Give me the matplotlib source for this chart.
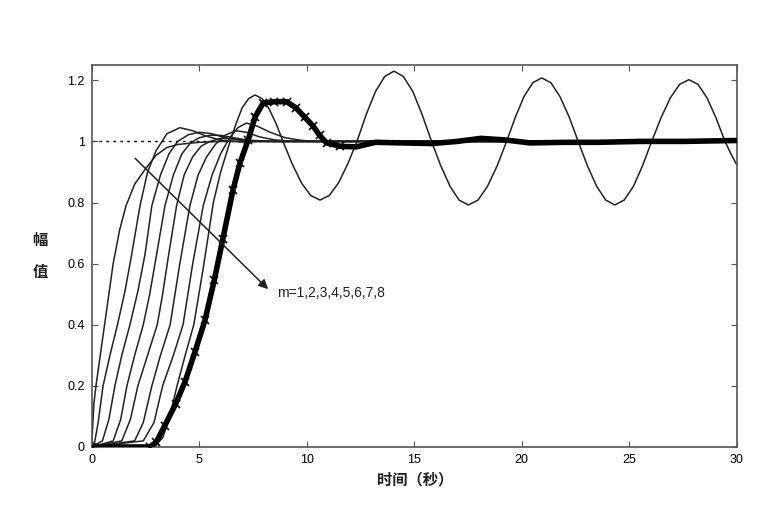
import matplotlib
matplotlib.use("Agg")
import matplotlib.pyplot as plt

plt.rcParams['font.family'] = ['Liberation Sans', 'DejaVu Sans']

# ---- data ----
t1 = [0, 0.1, 0.2, 0.4, 0.6, 0.8, 1.0, 1.3, 1.6, 2.0, 2.5, 3.0, 3.5, 4.0, 5.0, 6.0, 30]
y1 = [0, 0.14, 0.2, 0.3, 0.4, 0.5, 0.6, 0.71, 0.79, 0.86, 0.91, 0.955, 0.98, 0.99, 0.997, 1.0, 1.0]

t2 = [0, 0.15, 0.3, 0.53, 0.85, 1.2, 1.55, 1.86, 2.25, 2.6, 3.0, 3.5, 4.1, 4.7, 5.3, 6.0, 7.0, 8.0, 30]
y2 = [0, 0.02, 0.08, 0.2, 0.3, 0.4, 0.51, 0.63, 0.79, 0.9, 0.97, 1.025, 1.045, 1.035, 1.018, 1.004, 0.998, 1.0, 1.0]

t3 = [0, 0.5, 0.8, 1.08, 1.4, 1.78, 2.15, 2.48, 2.8, 3.2, 3.6, 4.0, 4.5, 5.0, 5.6, 6.2, 7.0, 8.0, 30]
y3 = [0, 0.02, 0.09, 0.2, 0.3, 0.4, 0.51, 0.63, 0.79, 0.89, 0.96, 1.0, 1.022, 1.03, 1.025, 1.012, 1.003, 1.0, 1.0]

t4 = [0, 1.0, 1.35, 1.64, 2.0, 2.4, 2.7, 3.02, 3.41, 3.8, 4.2, 4.6, 5.0, 5.5, 6.0, 6.6, 7.3, 8.5, 30]
y4 = [0, 0.02, 0.09, 0.2, 0.3, 0.4, 0.5, 0.63, 0.79, 0.89, 0.96, 0.995, 1.012, 1.02, 1.02, 1.012, 1.004, 1.0, 1.0]

t5 = [0, 1.4, 1.8, 2.15, 2.6, 3.05, 3.3, 3.56, 3.95, 4.3, 4.7, 5.1, 5.5, 6.0, 6.6, 7.3, 8.2, 30]
y5 = [0, 0.02, 0.09, 0.2, 0.3, 0.4, 0.5, 0.62, 0.79, 0.89, 0.95, 0.985, 1.0, 1.01, 1.008, 1.003, 1.0, 1.0]

t6 = [0, 2.0, 2.4, 2.8, 3.2, 3.65, 4.1, 4.57, 4.95, 5.35, 5.75, 6.2, 6.7, 7.2, 7.8, 8.5, 9.5, 30]
y6 = [0, 0.02, 0.08, 0.2, 0.3, 0.4, 0.6, 0.79, 0.89, 0.95, 0.99, 1.02, 1.035, 1.03, 1.015, 1.005, 1.0, 1.0]

t7 = [0, 2.4, 2.9, 3.3, 3.8, 4.25, 4.7, 5.19, 5.6, 6.0, 6.4, 6.8, 7.2, 7.7, 8.3, 9.0, 9.8, 10.5, 30]
y7 = [0, 0.02, 0.08, 0.2, 0.3, 0.4, 0.6, 0.79, 0.89, 0.96, 1.01, 1.045, 1.06, 1.05, 1.03, 1.012, 1.003, 1.0, 1.0]

# oscillating response
t8 = [0, 2.9, 3.3, 3.6, 3.97, 4.35, 4.75, 5.2, 5.66, 6.0, 6.35, 6.7, 7.0, 7.3, 7.6,
      7.93, 8.25, 8.58, 8.9, 9.33, 9.76, 10.19, 10.62, 11.05, 11.48, 11.91, 12.34,
      12.77, 13.2, 13.63, 14.06, 14.5, 14.94, 15.37, 15.81, 16.24, 16.67, 17.09, 17.52,
      17.97, 18.41, 18.86, 19.3, 19.71, 20.11, 20.52, 20.93, 21.36, 21.78, 22.21, 22.63,
      23.06, 23.49, 23.91, 24.34, 24.77, 25.2, 25.62, 26.05, 26.48, 26.92, 27.35, 27.78,
      28.2, 28.62, 29.04, 29.46, 29.73, 30]
y8 = [0, 0, 0.03, 0.09, 0.2, 0.3, 0.4, 0.59, 0.8, 0.9, 0.98, 1.055, 1.11, 1.14, 1.152,
      1.14, 1.107, 1.058, 1.0, 0.926, 0.864, 0.823, 0.808, 0.823, 0.864, 0.926, 1.0,
      1.088, 1.163, 1.2125, 1.23, 1.2125, 1.163, 1.088, 1.0, 0.92, 0.853, 0.808, 0.792,
      0.808, 0.853, 0.92, 1.0, 1.08, 1.147, 1.192, 1.208, 1.192, 1.147, 1.08, 1.0,
      0.92, 0.853, 0.808, 0.792, 0.808, 0.853, 0.92, 1.0, 1.077, 1.143, 1.187, 1.202,
      1.187, 1.143, 1.077, 1.0, 0.96, 0.924]

# thick marked response
t9 = [0, 2.7, 3.0, 3.4, 3.9, 4.34, 4.8, 5.27, 5.7, 6.1, 6.57, 6.9, 7.28, 7.6, 7.98, 8.5,
      9.07, 9.5, 9.9, 10.3, 10.6, 10.93, 11.55, 12.3, 13.2, 14.5, 15.8, 17.0, 18.1, 19.2,
      20.4, 22.0, 23.5, 25.5, 27.5, 30]
y9 = [0, 0, 0.015, 0.07, 0.14, 0.213, 0.31, 0.415, 0.545, 0.68, 0.84, 0.93, 1.005, 1.08,
      1.126, 1.13, 1.13, 1.11, 1.08, 1.05, 1.02, 0.995, 0.984, 0.982, 0.997, 0.995, 0.993,
      1.0, 1.01, 1.005, 0.995, 0.997, 0.997, 1.0, 1.0, 1.003]

x_ticks = [0, 5, 10, 15, 20, 25, 30]
y_ticks = [0, 0.2, 0.4, 0.6, 0.8, 1.0, 1.2]
y_tick_labels = ['0', '0.2', '0.4', '0.6', '0.8', '1', '1.2']
ref_level = 1.0
label_text = 'm=1,2,3,4,5,6,7,8'

fig = plt.figure(figsize=(7.57, 5.12), dpi=100)
ax = fig.add_axes([0.1211, 0.127, 0.852, 0.746])

ax.axhline(ref_level, color='black', linestyle=(0, (2, 3)), linewidth=1.0, zorder=1)

for tt, yy in [(t1, y1), (t2, y2), (t3, y3), (t4, y4), (t5, y5), (t6, y6), (t7, y7)]:
    ax.plot(tt, yy, color='#222222', linewidth=1.1, zorder=2)
ax.plot(t8, y8, color='#222222', linewidth=1.1, zorder=2)
ax.plot(t9, y9, color='black', linewidth=4.0, solid_capstyle='round', zorder=3)
ax.plot(t9[:23], y9[:23], color='black', linestyle='none', marker='x',
        markersize=6, markeredgewidth=1.2, zorder=3)

ax.annotate('', xy=(8.3, 0.51), xytext=(1.93, 0.951),
            arrowprops=dict(arrowstyle='-|>', color='#222222', lw=1.1,
                            mutation_scale=14))
ax.text(8.6, 0.505, label_text, fontsize=10, va='center', ha='left', color='#222222')

ax.set_xlim(0, 30)
ax.set_ylim(0, 1.25)
ax.set_xticks(x_ticks)
ax.set_yticks(y_ticks)
ax.set_yticklabels(y_tick_labels)
ax.tick_params(direction='in', top=True, right=True, labelsize=9, length=4,
               color='#555555', pad=5)
for s in ax.spines.values():
    s.set_color('#555555')
    s.set_linewidth(1.2)

cjk = ['Noto Sans CJK SC', 'DejaVu Sans']
fig.text(0.549, 0.064, '时间（秒）', family=cjk, fontsize=11, fontweight='bold',
         ha='center', va='center', color='#222222')
fig.text(0.053, 1 - 240 / 512, '幅', family=cjk, fontsize=11, fontweight='bold',
         ha='center', va='center', color='#222222')
fig.text(0.053, 1 - 272 / 512, '值', family=cjk, fontsize=11, fontweight='bold',
         ha='center', va='center', color='#222222')

fig.savefig('out.png', dpi=100)
